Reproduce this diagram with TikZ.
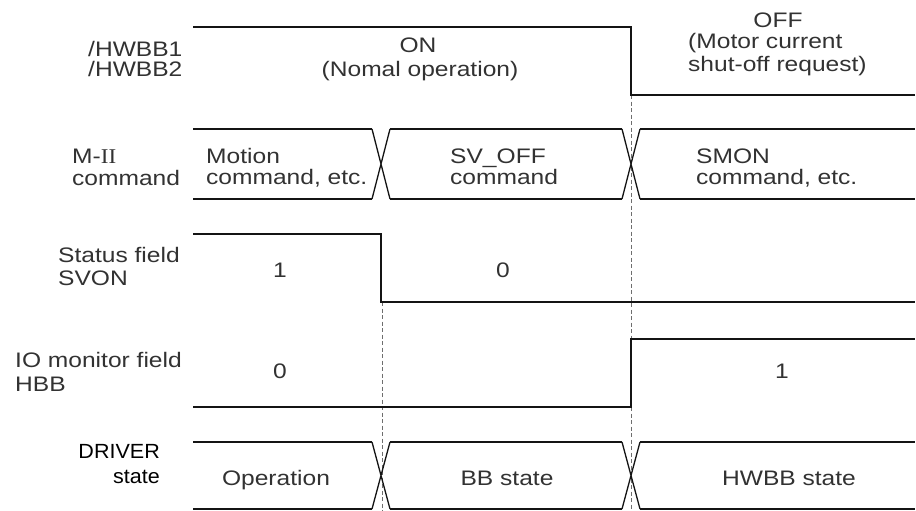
\documentclass[tikz,border=0pt]{standalone}
\usepackage{fontspec}
\setmainfont[FakeStretch=1.17]{Liberation Sans}
\newfontfamily\romanfont[FakeStretch=1.1]{Liberation Serif}
\newfontfamily\driverfont[FakeStretch=1.05]{Liberation Sans}
\definecolor{txtgray}{RGB}{50,50,50}
\definecolor{sigcol}{RGB}{20,20,20}
\definecolor{guidecol}{RGB}{110,110,110}
\newcommand{\busline}[2]{%
  \draw[sig] (193,#1) -- (372,#1) (193,#2) -- (372,#2)
             (390,#1) -- (622,#1) (390,#2) -- (622,#2)
             (640,#1) -- (915,#1) (640,#2) -- (915,#2);
  \draw[xing] (372,#1) -- (390,#2) (372,#2) -- (390,#1)
              (622,#1) -- (640,#2) (622,#2) -- (640,#1);}
\begin{document}
\begin{tikzpicture}[x=1pt,y=-1pt,
  lbl/.style={inner sep=0pt, anchor=base west, text=txtgray, font=\fontsize{21}{23}\selectfont},
  lblc/.style={lbl, anchor=base},
  drv/.style={inner sep=0pt, anchor=base east, text=black, font=\driverfont\fontsize{20.5}{22}\selectfont},
  sig/.style={line width=2.4pt, draw=sigcol, line join=miter},
  xing/.style={line width=1.3pt, draw=sigcol},
  guide/.style={draw=guidecol, line width=0.9pt, dash pattern=on 4pt off 2.5pt}]
\useasboundingbox[fill=white] (0,0) rectangle (916,511);

% guide lines
\coordinate (gA1) at (382,302);
\coordinate (gA2) at (382,511);
\coordinate (gB1) at (631,95);
\coordinate (gB2) at (631,511);
\draw[guide] (gA1) -- (gA2);
\draw[guide] (gB1) -- (gB2);

% /HWBB
\draw[sig] (193,27) -- (631,27) -- (631,95) -- (915,95);
% M-II command
\busline{129}{199}
% SVON
\draw[sig] (193,234) -- (381,234) -- (381,302) -- (915,302);
% HBB
\draw[sig] (193,407) -- (631,407) -- (631,339) -- (915,339);
% DRIVER state
\busline{442}{509}

% labels
\node[lbl] (h1) at (88,57) {/HWBB1};
\node[lbl] (h2) at (88,77) {/HWBB2};
\node[lblc] (on) at (418,53) {ON};
\node[lblc] (on2) at (420,77) {(Nomal operation)};
\node[lblc] (off) at (778,28) {OFF};
\node[lbl] (off2) at (688,49) {(Motor current};
\node[lbl] (off3) at (688,71) {shut-off request)};

\node[lbl] (m1) at (72,163) {M-{\romanfont II}};
\node[lbl] (m2) at (72,185) {command};
\node[lbl] (c1) at (206,163) {Motion};
\node[lbl] (c1b) at (206,184) {command, etc.};
\node[lbl] (c2) at (450,163) {SV\_OFF};
\node[lbl] (c2b) at (450,184) {command};
\node[lbl] (c3) at (696,163) {SMON};
\node[lbl] (c3b) at (696,184) {command, etc.};

\node[lbl] (s1) at (58,262) {Status field};
\node[lbl] (s2) at (58,285) {SVON};
\node[lblc] (sv1) at (280,277) {1};
\node[lblc] (sv0) at (503,277) {0};

\node[lbl] (i1) at (15,367) {IO monitor field};
\node[lbl] (i2) at (15,391) {HBB};
\node[lblc] (hb0) at (280,378) {0};
\node[lblc] (hb1) at (782,378) {1};

\node[drv] (d1) at (160,458) {DRIVER};
\node[drv] (d2) at (160,483) {state};
\node[lblc] (st1) at (276,485) {Operation};
\node[lblc] (st2) at (507,485) {BB state};
\node[lblc] (st3) at (789,485) {HWBB state};
\end{tikzpicture}
\end{document}
